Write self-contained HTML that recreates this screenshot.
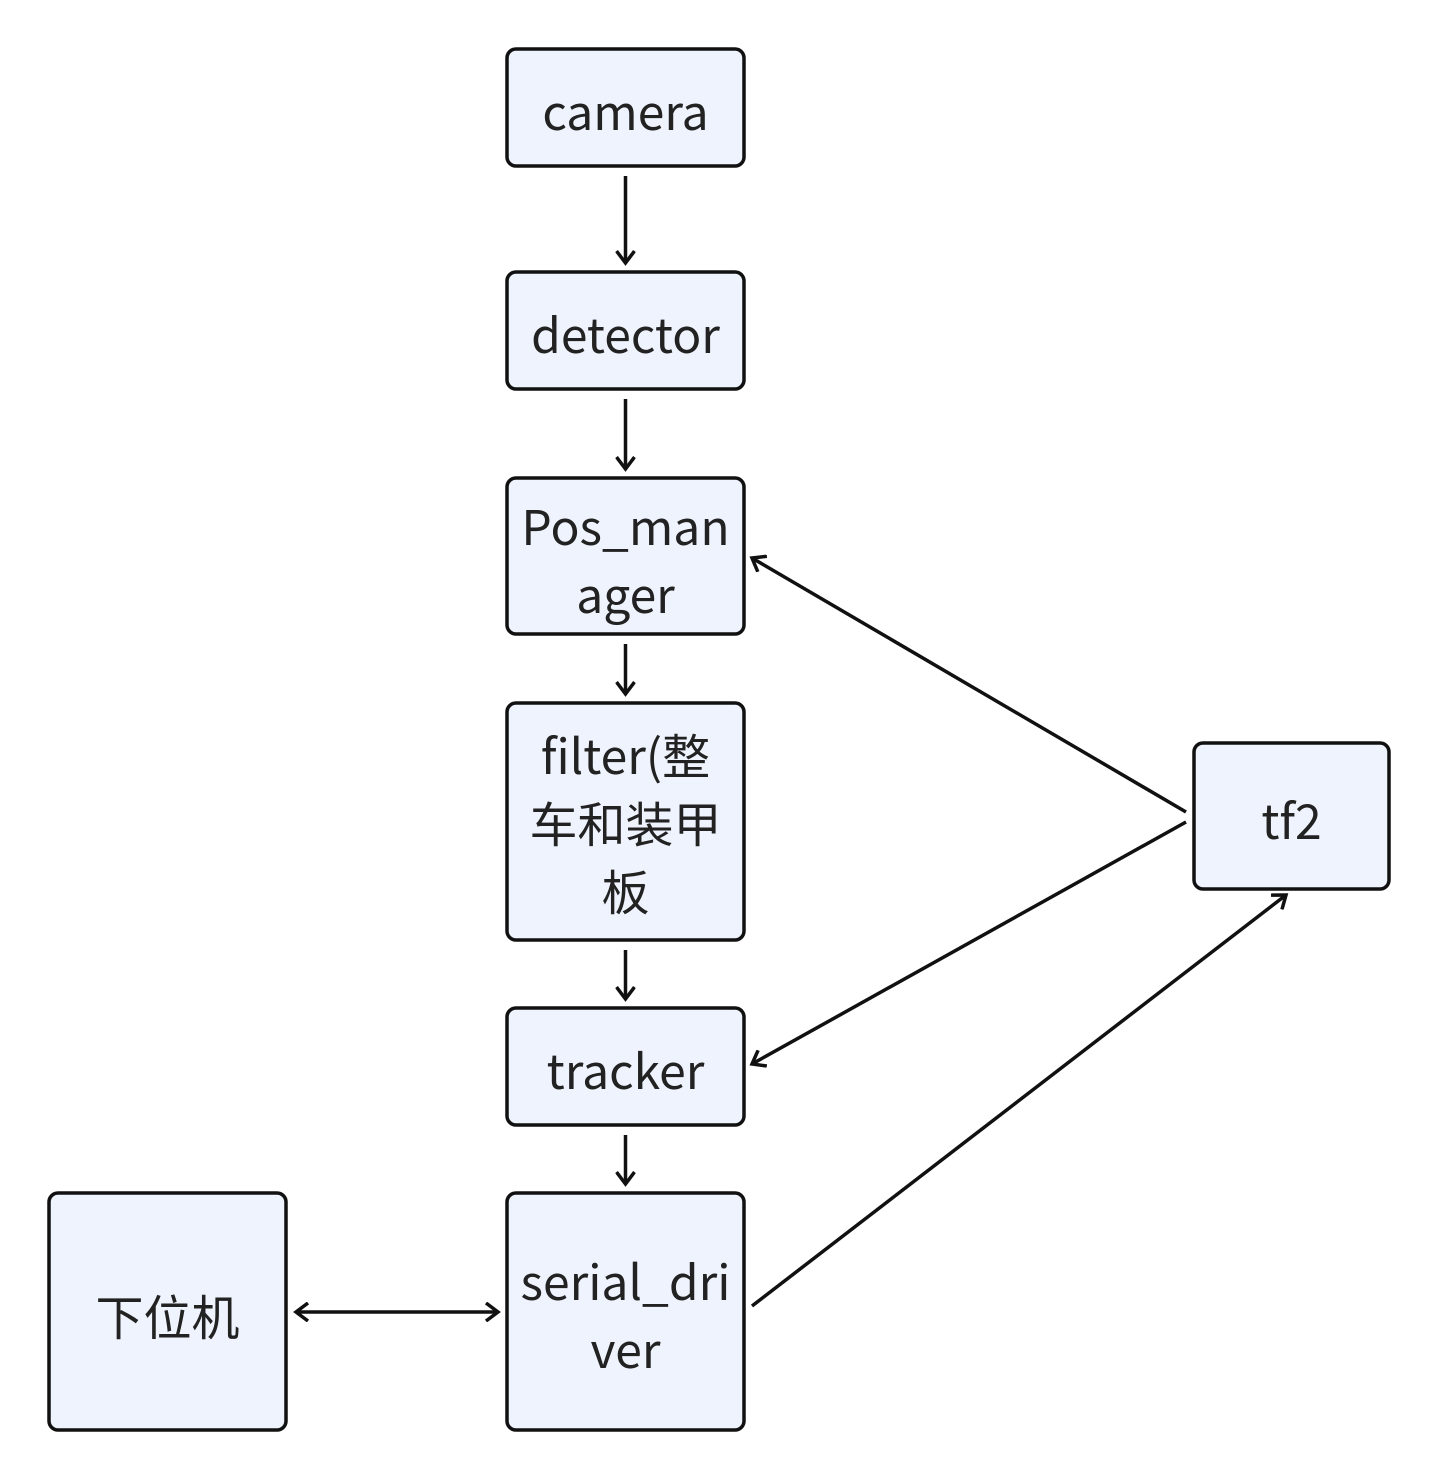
<!DOCTYPE html>
<html><head><meta charset="utf-8"><style>
html,body{margin:0;padding:0;background:#fff;}
svg{display:block}
text{font-family:"Noto Sans CJK SC","Liberation Sans",sans-serif;font-size:48px;fill:#222;text-anchor:middle;}
</style></head><body>
<svg width="1440" height="1482" viewBox="0 0 1440 1482" xmlns="http://www.w3.org/2000/svg">
<defs>
<marker id="a" markerWidth="20" markerHeight="20" refX="14" refY="10" orient="auto-start-reverse" markerUnits="userSpaceOnUse">
<polyline points="2,1 14,10 2,19" fill="none" stroke="#111" stroke-width="3.5"/>
</marker>
</defs>
<g fill="#eef3fd" stroke="#111" stroke-width="3.5">
<rect x="507" y="49" width="237" height="117" rx="9"/>
<rect x="507" y="272" width="237" height="117" rx="9"/>
<rect x="507" y="478" width="237" height="156" rx="9"/>
<rect x="507" y="703" width="237" height="237" rx="9"/>
<rect x="507" y="1008" width="237" height="117" rx="9"/>
<rect x="507" y="1193" width="237" height="237" rx="9"/>
<rect x="49" y="1193" width="237" height="237" rx="9"/>
<rect x="1194" y="743" width="195" height="146" rx="9"/>
</g>
<g stroke="#111" stroke-width="3.5" fill="none" marker-end="url(#a)">
<line x1="625.5" y1="176" x2="625.5" y2="263"/>
<line x1="625.5" y1="399" x2="625.5" y2="469"/>
<line x1="625.5" y1="644" x2="625.5" y2="694"/>
<line x1="625.5" y1="950" x2="625.5" y2="999"/>
<line x1="625.5" y1="1135" x2="625.5" y2="1184"/>
<line x1="1186" y1="812" x2="752" y2="558"/>
<line x1="1186" y1="822" x2="752" y2="1064"/>
<line x1="752" y1="1306" x2="1286" y2="895"/>
<line x1="296" y1="1312" x2="498" y2="1312" marker-start="url(#a)"/>
</g>
<text x="625.5" y="130">camera</text>
<text x="625.5" y="353">detector</text>
<text x="625.5" y="545">Pos_man</text>
<text x="625.5" y="613">ager</text>
<text x="625.5" y="774">filter(整</text>
<text x="625.5" y="842">车和装甲</text>
<text x="625.5" y="910">板</text>
<text x="625.5" y="1089">tracker</text>
<text x="625.5" y="1300">serial_dri</text>
<text x="625.5" y="1368">ver</text>
<text x="167.5" y="1335">下位机</text>
<text x="1291.5" y="839">tf2</text>
</svg>
</body></html>
